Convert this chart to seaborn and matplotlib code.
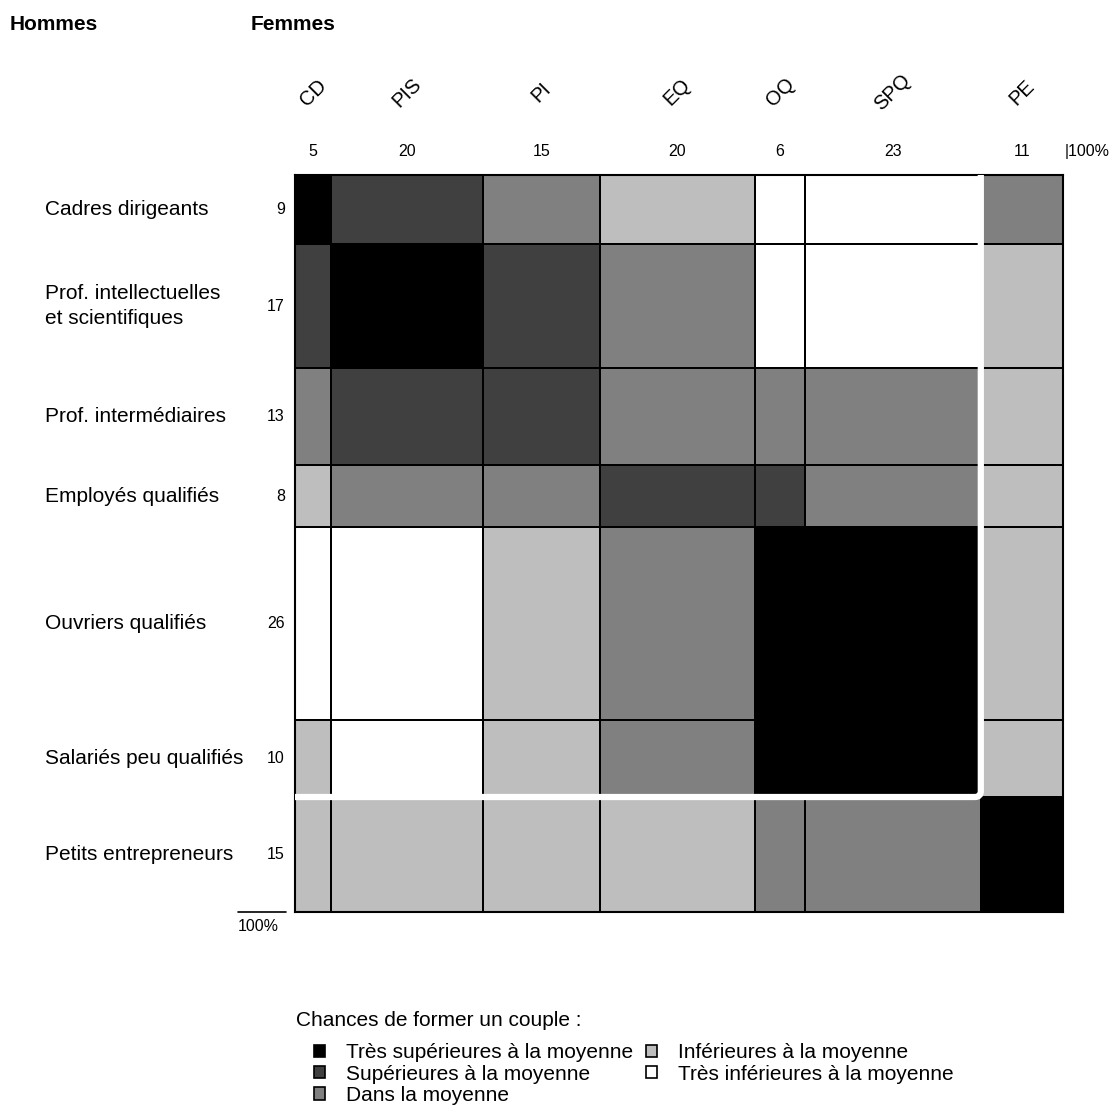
import numpy as np
import matplotlib.pyplot as plt
import seaborn as sns
from matplotlib.colors import ListedColormap
from matplotlib.patches import Patch, FancyBboxPatch

sns.set_theme(style="white")
plt.rcParams['font.family'] = ['Liberation Sans', 'DejaVu Sans']
plt.rcParams['text.color'] = 'black'

# femmes (colonnes)
col_codes = ["CD", "PIS", "PI", "EQ", "OQ", "SPQ", "PE"]
col_share = [4.7, 19.8, 15.2, 20.2, 6.5, 22.9, 10.7]
col_labels = ["5", "20", "15", "20", "6", "23", "11"]

# hommes (lignes)
row_names = ["Cadres dirigeants", "Prof. intellectuelles\net scientifiques",
             "Prof. intermédiaires", "Employés qualifiés", "Ouvriers qualifiés",
             "Salariés peu qualifiés", "Petits entrepreneurs"]
row_share = [9.4, 16.8, 13.2, 8.4, 26.2, 10.4, 15.6]
row_labels = ["9", "17", "13", "8", "26", "10", "15"]

# 4 = très supérieures ... 0 = très inférieures
levels = np.array([
    [4, 3, 2, 1, 0, 0, 2],
    [3, 4, 3, 2, 0, 0, 1],
    [2, 3, 3, 2, 2, 2, 1],
    [1, 2, 2, 3, 3, 2, 1],
    [0, 0, 1, 2, 4, 4, 1],
    [1, 0, 1, 2, 4, 4, 1],
    [1, 1, 1, 1, 2, 2, 4],
])
legend_names = ["Très supérieures à la moyenne", "Supérieures à la moyenne",
                "Dans la moyenne", "Inférieures à la moyenne",
                "Très inférieures à la moyenne"]
greys = ["#ffffff", "#bebebe", "#808080", "#404040", "#000000"]

xe = np.concatenate([[0], np.cumsum(col_share)])
ye = np.concatenate([[0], np.cumsum(row_share)])
xe = xe / xe[-1] * 100
ye = ye / ye[-1] * 100
xc = (xe[:-1] + xe[1:]) / 2
yc = (ye[:-1] + ye[1:]) / 2

fig = plt.figure(figsize=(11.16, 11.13), dpi=100)
ax = fig.add_axes([0.2643, 0.1806, 0.6882, 0.6622])
ax.pcolormesh(xe, ye, levels, cmap=ListedColormap(greys), vmin=-0.5, vmax=4.5,
              edgecolors="black", linewidth=1.3)
ax.set_xlim(0, 100)
ax.set_ylim(100, 0)
ax.set_xticks([])
ax.set_yticks([])
for s in ax.spines.values():
    s.set_color("black")
    s.set_linewidth(1.5)

# cadre blanc autour des salariés
box = FancyBboxPatch((-10, -10), xe[6] + 10, ye[6] + 10,
                     boxstyle="round,pad=0,rounding_size=0.8",
                     fill=False, edgecolor="white", linewidth=4.5, zorder=5)
ax.add_patch(box)

for x, code, lab in zip(xc, col_codes, col_labels):
    ax.text(x, -11.2, code, rotation=45, ha="center", va="center", fontsize=14.5)
    ax.text(x, -3.2, lab, ha="center", va="center", fontsize=11.5)
ax.text(100.2, -3.2, "|100%", ha="left", va="center", fontsize=11.5)

for y, name, lab in zip(yc, row_names, row_labels):
    ax.text(-32.5, y, name, ha="left", va="center", fontsize=15, linespacing=1.4)
    ax.text(-1.3, y, lab, ha="right", va="center", fontsize=11.5)

ax.plot([-7.4, -1.2], [100, 100], color="black", lw=1.2, clip_on=False)
ax.text(-7.4, 101.0, "100%", ha="left", va="top", fontsize=11.5)

fig.text(0.009, 0.978, "Hommes", fontsize=15, fontweight="bold", va="center")
fig.text(0.225, 0.978, "Femmes", fontsize=15, fontweight="bold", va="center")

handles = [Patch(facecolor=greys[4 - i], edgecolor="black", linewidth=1.2,
                 label=legend_names[i]) for i in range(5)]
leg = fig.legend(handles=handles, loc="upper left", bbox_to_anchor=(0.281, 0.0625),
                 ncol=2, frameon=False, fontsize=15, handlelength=0.55,
                 handleheight=0.55, handletextpad=1.0, columnspacing=0.6,
                 labelspacing=0.1, borderaxespad=0, borderpad=0)
fig.text(0.265, 0.0835, "Chances de former un couple :", fontsize=15, va="center")

fig.savefig("out.png", dpi=100)
